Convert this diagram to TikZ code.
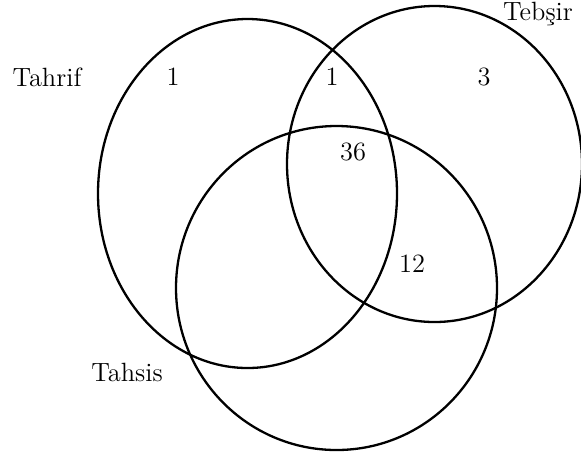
\documentclass[tikz,border=0pt]{standalone}
\usepackage{tikz}
\usetikzlibrary{positioning}
\tikzset{
  %% Set outline
  setline/.style={draw=black, line width=1.15pt},
  %% Count / set label
  lbl/.style={font=\fontsize{13.2}{15}\selectfont, inner sep=1pt},
}

\begin{document}
\begin{tikzpicture}[x=0.5pt, y=-0.5pt]
  \useasboundingbox (0,0) rectangle (581,457);

  %% ---- Sets ----
  \draw[setline] (247.5,193.5) ellipse [x radius=149.5, y radius=174.5];
  \draw[setline] (434.5,164) ellipse [x radius=147.5, y radius=158];
  \draw[setline] (336.5,288) ellipse [x radius=160.5, y radius=162];

  %% ---- Set names ----
  \node[lbl] (tahrif) at (47,77) {Tahrif};
  \node[lbl] (tebsir) at (538,14) {Tebşir};
  \node[lbl] (tahsis) at (127,372) {Tahsis};

  %% ---- Counts ----
  \node[lbl] (n1) at (173,77) {1};
  \node[lbl] (n2) at (332,77) {1};
  \node[lbl] (n3) at (484,77) {3};
  \node[lbl] (n4) at (353,152) {36};
  \node[lbl] (n5) at (412,264) {12};

\end{tikzpicture}
\end{document}
